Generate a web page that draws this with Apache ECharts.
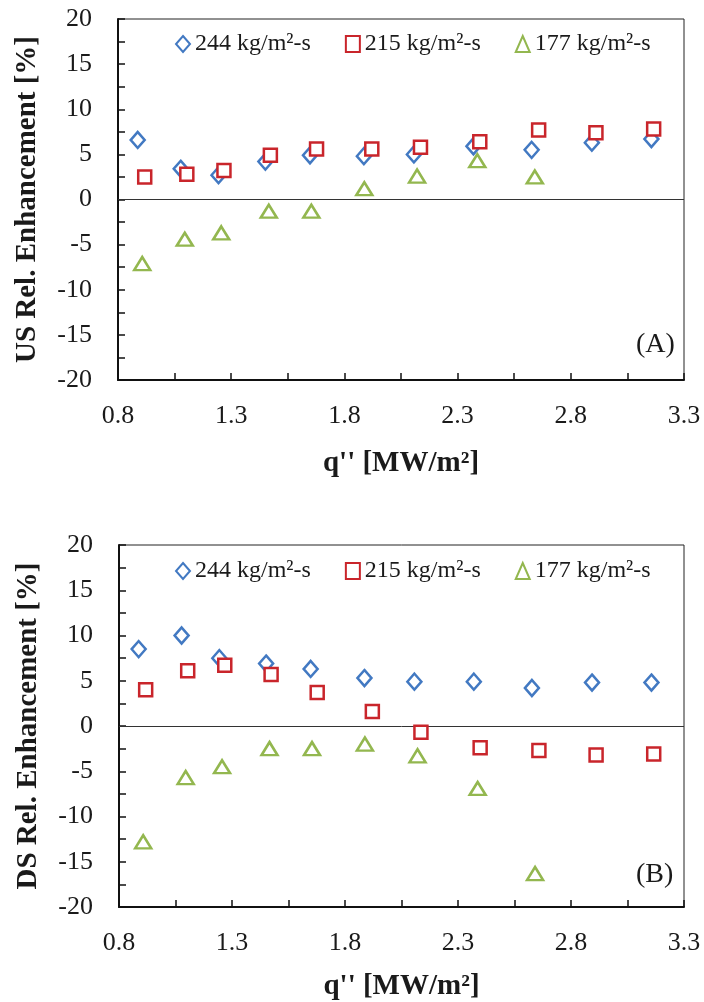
<!DOCTYPE html>
<html>
<head>
<meta charset="utf-8">
<script src="https://cdn.jsdelivr.net/npm/echarts@6/dist/echarts.min.js"></script>
<style>
  html, body { margin: 0; padding: 0; background: #fff; }
  #chart { width: 704px; height: 1002px; }
</style>
</head>
<body>
<div id="chart"></div>
<script>
// heat flux q'' [MW/m2] for each mass flux
const q244 = [0.887, 1.077, 1.244, 1.451, 1.648, 1.886, 2.107, 2.370, 2.627, 2.893, 3.156];
const q215 = [0.918, 1.104, 1.268, 1.473, 1.677, 1.921, 2.136, 2.398, 2.658, 2.911, 3.166];
const q177 = [0.907, 1.095, 1.256, 1.466, 1.654, 1.888, 2.121, 2.387, 2.641];

// (A) upstream relative enhancement [%]
const us244 = [6.6, 3.4, 2.7, 4.2, 4.9, 4.8, 5.0, 5.9, 5.5, 6.3, 6.7];
const us215 = [2.5, 2.8, 3.2, 4.9, 5.6, 5.6, 5.8, 6.4, 7.7, 7.4, 7.8];
const us177 = [-7.1, -4.4, -3.7, -1.3, -1.3, 1.2, 2.6, 4.3, 2.5];

// (B) downstream relative enhancement [%]
const ds244 = [8.5, 10.0, 7.5, 6.9, 6.3, 5.3, 4.9, 4.9, 4.2, 4.8, 4.8];
const ds215 = [4.0, 6.1, 6.7, 5.7, 3.7, 1.6, -0.7, -2.4, -2.7, -3.2, -3.1];
const ds177 = [-12.8, -5.7, -4.5, -2.5, -2.5, -2.0, -3.3, -6.9, -16.3];

const seriesNames = ['244 kg/m²-s', '215 kg/m²-s', '177 kg/m²-s'];
const xTicks = [0.8, 1.05, 1.3, 1.55, 1.8, 2.05, 2.3, 2.55, 2.8, 3.05, 3.3];
const xLabels = [0.8, 1.3, 1.8, 2.3, 2.8, 3.3];
const yTicks = [-20, -17.5, -15, -12.5, -10, -7.5, -5, -2.5, 0, 2.5, 5, 7.5, 10, 12.5, 15, 17.5, 20];
const yLabels = [-20, -15, -10, -5, 0, 5, 10, 15, 20];
const panelTags = ['(A)', '(B)'];
const yTitles = ['US Rel. Enhancement [%]', 'DS Rel. Enhancement [%]'];

const colors = ['#4279c2', '#c9252b', '#93b74f'];
const symbols = ['diamond', 'rect', 'triangle'];
const sizes = [[14, 16], 13, [16, 13]];
const font = 'Liberation Serif, Times New Roman, serif';

const chart = echarts.init(document.getElementById('chart'));

const grids = [
  { left: 118, top: 19, width: 566, height: 361 },
  { left: 119, top: 545, width: 565, height: 364 }
];

function xAxis(i, gap) {
  return {
    type: 'value', gridIndex: i, min: 0.8, max: 3.3,
    name: "q'' [MW/m²]", nameLocation: 'middle', nameGap: gap,
    nameTextStyle: { fontFamily: font, fontWeight: 'bold', fontSize: 29, color: '#1a1a1a' },
    axisLine: { show: true, onZero: false, lineStyle: { color: '#111', width: 2 } },
    axisTick: { show: true, inside: true, length: 7, customValues: xTicks, lineStyle: { color: '#111', width: 1.5 } },
    axisLabel: { customValues: xLabels, margin: 23, fontFamily: font, fontSize: 26, color: '#1a1a1a' },
    splitLine: { show: false }
  };
}

function yAxis(i) {
  return {
    type: 'value', gridIndex: i, min: -20, max: 20,
    name: yTitles[i], nameLocation: 'middle', nameGap: 76,
    nameTextStyle: { fontFamily: font, fontWeight: 'bold', fontSize: 29, color: '#1a1a1a' },
    axisLine: { show: true, onZero: false, lineStyle: { color: '#111', width: 2 } },
    axisTick: { show: true, inside: true, length: 7, customValues: yTicks, lineStyle: { color: '#111', width: 1.5 } },
    axisLabel: { customValues: yLabels, margin: 26, fontFamily: font, fontSize: 26, color: '#1a1a1a' },
    splitLine: { show: false }
  };
}

function scatter(k, i, xs, ys) {
  const s = {
    name: seriesNames[k], type: 'scatter', xAxisIndex: i, yAxisIndex: i,
    data: xs.map((x, j) => [x, ys[j]]),
    symbol: symbols[k], symbolSize: sizes[k],
    itemStyle: { color: '#fff', borderColor: colors[k], borderWidth: 2.5, opacity: 1 },
    z: 3 + k
  };
  if (k === 0) {
    s.markLine = {
      silent: true, symbol: 'none', label: { show: false },
      lineStyle: { color: '#333', width: 1, type: 'solid' },
      data: [{ yAxis: 0 }], z: 1
    };
  }
  return s;
}

function legend(top) {
  return {
    top: top, left: 170, itemWidth: 14, itemHeight: 16, itemGap: 34,
    data: seriesNames.map((n, k) => ({ name: n, icon: symbols[k] })),
    textStyle: { fontFamily: font, fontSize: 24, color: '#1a1a1a' },
    selectedMode: false
  };
}

chart.setOption({
  animation: false,
  backgroundColor: '#fff',
  grid: grids.map(g => Object.assign({ show: true, borderColor: '#222', borderWidth: 1, backgroundColor: 'transparent' }, g)),
  xAxis: [xAxis(0, 69), xAxis(1, 65)],
  yAxis: [yAxis(0), yAxis(1)],
  legend: [legend(27), legend(554)],
  series: [
    scatter(0, 0, q244, us244), scatter(1, 0, q215, us215), scatter(2, 0, q177, us177),
    scatter(0, 1, q244, ds244), scatter(1, 1, q215, ds215), scatter(2, 1, q177, ds177)
  ],
  graphic: [
    { type: 'text', left: 636, top: 331, style: { text: panelTags[0], font: '28px ' + font, fill: '#1a1a1a' } },
    { type: 'text', left: 636, top: 861, style: { text: panelTags[1], font: '28px ' + font, fill: '#1a1a1a' } }
  ]
});
</script>
</body>
</html>
